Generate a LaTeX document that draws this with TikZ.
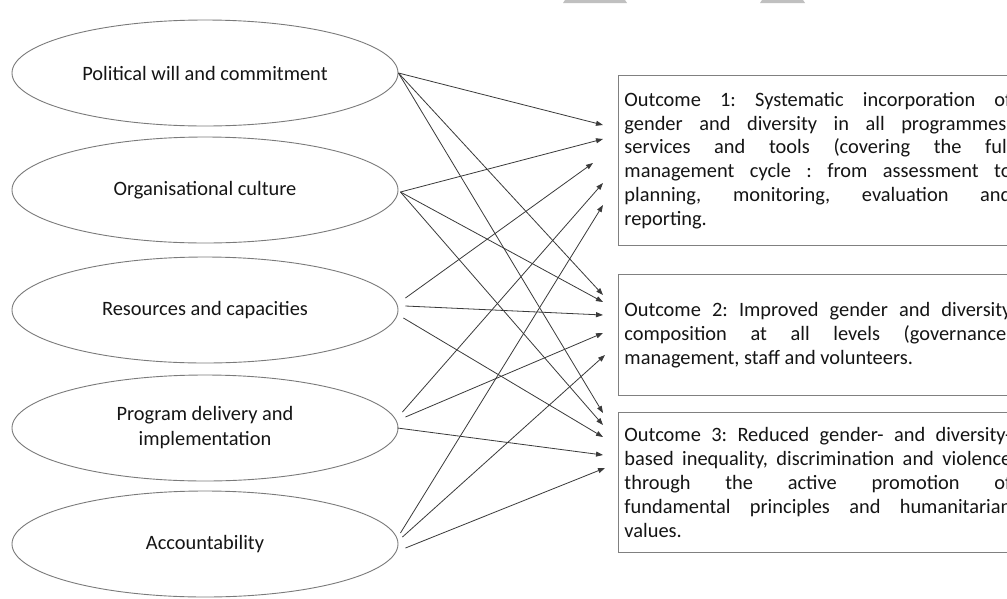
\documentclass[tikz,border=0pt]{standalone}
\usepackage{fontspec}
\setmainfont{Carlito}
\usetikzlibrary{arrows.meta,shapes.geometric}
\definecolor{ellgray}{HTML}{7A7A7A}
\definecolor{boxgray}{HTML}{808080}
\definecolor{arrgray}{HTML}{3A3A3A}
\definecolor{txt}{HTML}{151515}
\definecolor{wm}{HTML}{C0C0C0}
\tolerance=10000
\hbadness=10000
\hfuzz=30pt
\hyphenpenalty=10000
\frenchspacing
\begin{document}
\begin{tikzpicture}[x=1pt,y=-1pt,
  factor/.style={ellipse,draw=ellgray,line width=0.9pt,minimum width=386pt,minimum height=106pt,inner sep=0pt,align=center,text=txt,font=\fontsize{20.4}{25}\selectfont},
  outcome/.style={rectangle,draw=boxgray,line width=0.9pt,anchor=north west,text width=387pt,inner xsep=6pt,inner ysep=0pt,align=justify,text=txt,font=\fontsize{20.4}{23.8}\selectfont},
  link/.style={draw=arrgray,line width=0.8pt,-{Triangle[length=7pt,width=5pt]}}]
\useasboundingbox (0,0) rectangle (1007,598);
\clip (0,0) rectangle (1007,598);
\fill[white] (0,0) rectangle (1007,598);
% faint watermark marks at the top edge
\fill[wm] (565,0) -- (625,0) -- (627,3) -- (563,3) -- cycle;
\fill[wm] (762,0) -- (803,0) -- (805,3) -- (760,3) -- cycle;

% factors
\node[factor] (E1) at (205,73) {Political will and commitment};
\node[factor] (E2) at (205,190) {Organisational culture};
\node[factor] (E3) at (205,310) {Resources and capacities};
\node[factor] (E4) at (205,428) {Program delivery and\\implementation};
\node[factor] (E5) at (205,544) {Accountability};

% outcomes
\node[outcome,minimum height=170pt] (O1) at (618,75) {Outcome 1: Systematic incorporation of\linebreak gender and diversity in all programmes,\linebreak services and tools (covering the full\linebreak management cycle : from assessment to\linebreak planning, monitoring, evaluation and\linebreak reporting.};
\node[outcome,minimum height=121pt] (O2) at (618,274) {Outcome 2: Improved gender and diversity\linebreak composition at all levels (governance,\linebreak management, staff and volunteers.};
\node[outcome,minimum height=140pt] (O3) at (618,412) {Outcome 3: Reduced gender- and diversity-\linebreak based inequality, discrimination and violence\linebreak through the active promotion of\linebreak fundamental principles and humanitarian\linebreak values.};

% arrow tips (free ends)
\coordinate (a1) at (603,125);
\coordinate (a2) at (603,139);
\coordinate (a3) at (593,163);
\coordinate (a4) at (603,183);
\coordinate (a5) at (603,205);
\coordinate (b1) at (603,295);
\coordinate (b2) at (603,302);
\coordinate (b3) at (603,315);
\coordinate (b4) at (603,333);
\coordinate (b5) at (605,355);
\coordinate (c1) at (603,413);
\coordinate (c2) at (603,425);
\coordinate (c3) at (603,437);
\coordinate (c4) at (603,455);
\coordinate (c5) at (605,468);

% connectors
\draw[link] (E1.east) -- (a1);
\draw[link] (E1.east) -- (b1);
\draw[link] (E1.east) -- (c1);
\draw[link] ([shift={(2,2)}]E2.east) -- (a2);
\draw[link] ([shift={(2,2)}]E2.east) -- (b2);
\draw[link] ([shift={(2,2)}]E2.east) -- (c2);
\draw[link] ([shift={(7,-12)}]E3.east) -- (a3);
\draw[link] ([shift={(7,-4)}]E3.east) -- (b3);
\draw[link] ([shift={(5,8)}]E3.east) -- (c3);
\draw[link] ([shift={(4,-16)}]E4.east) -- (a4);
\draw[link] ([shift={(7,-11)}]E4.east) -- (b4);
\draw[link] ([shift={(-1,0)}]E4.east) -- (c4);
\draw[link] ([shift={(2,-11)}]E5.east) -- (a5);
\draw[link] ([shift={(4,-7)}]E5.east) -- (b5);
\draw[link] ([shift={(7,4)}]E5.east) -- (c5);
\end{tikzpicture}
\end{document}
